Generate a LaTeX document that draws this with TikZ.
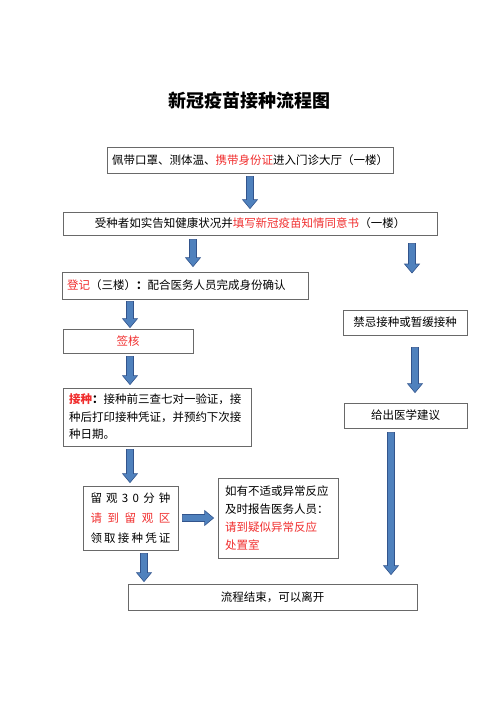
\documentclass[tikz,border=0pt]{standalone}
\usepackage{fontspec}
\setmainfont{Noto Sans CJK SC}
\usepackage{xcolor}
\usepackage{tikz}
\usetikzlibrary{calc}

\definecolor{arrowfill}{RGB}{79,129,189}
\definecolor{arrowedge}{RGB}{50,84,140}
\definecolor{boxline}{RGB}{105,105,105}
\definecolor{hl}{RGB}{240,45,45}

\tikzset{
  box/.style={draw=boxline, line width=0.8pt, inner sep=0pt,
              font=\fontsize{11.5}{18}\selectfont},
  blockarrow/.style={draw=arrowedge, fill=arrowfill, line width=0.6pt,
    to path={
      ($(\tikztotarget)!9pt!(\tikztostart)$) coordinate (hb)
      ($(\tikztostart)!3.5pt!90:(\tikztotarget)$)
      -- ($(hb)!3.5pt!-90:(\tikztostart)$)
      -- ($(hb)!7.5pt!-90:(\tikztostart)$)
      -- (\tikztotarget)
      -- ($(hb)!7.5pt!90:(\tikztostart)$)
      -- ($(hb)!3.5pt!90:(\tikztostart)$)
      -- ($(\tikztostart)!3.5pt!-90:(\tikztotarget)$)
      -- cycle}}
}

\begin{document}
\begin{tikzpicture}[x=1pt,y=-1pt]
\useasboundingbox (0,0) rectangle (500,707);

% title
\node[font=\fontsize{18}{18}\selectfont\bfseries] (title) at (249,101) {新冠疫苗接种流程图};

% main column
\node[box, minimum width=286pt, minimum height=26pt] (entry) at (250,160)
  {佩带口罩、测体温、\textcolor{hl}{携带身份证}进入门诊大厅（一楼）};
\node[box, minimum width=374pt, minimum height=23pt] (consent) at (250,223.5)
  {受种者如实告知健康状况并\textcolor{hl}{填写新冠疫苗知情同意书}（一楼）};
\node[box, text width=236pt, inner xsep=5pt, align=left, minimum height=27pt] (reg) at (185,285.5)
  {\textcolor{hl}{登记}（三楼）\textbf{：}配合医务人员完成身份确认};
\node[box, minimum width=130pt, minimum height=24pt, text=hl] (sign) at (128,341) {签核};
\node[box, text width=176pt, inner xsep=6pt, align=left, minimum height=58pt,
      font=\fontsize{11.5}{17.5}\selectfont] (inject) at (157,417)
  {\textcolor{hl}{\textbf{接种}}\textbf{：}接种前三查七对一验证，接\\
   种后打印接种凭证，并预约下次接\\
   种日期。};
\node[box, text width=80pt, inner xsep=7.5pt, align=left, minimum height=64pt,
      font=\fontsize{11.5}{20}\selectfont] (observe) at (130.5,518)
  {\makebox[80pt][s]{留\hfill 观\hfill 3\hfill 0\hfill 分\hfill 钟}\\
   \makebox[80pt][s]{\color{hl}请\hfill 到\hfill 留\hfill 观\hfill 区}\\
   \makebox[80pt][s]{领\hfill 取\hfill 接\hfill 种\hfill 凭\hfill 证}};
\node[box, text width=106pt, inner xsep=7pt, align=left, minimum height=80pt] (report) at (278,518)
  {如有不适或异常反应\\
   及时报告医务人员：\\
   \textcolor{hl}{请到疑似异常反应}\\
   \textcolor{hl}{处置室}};
\node[box, minimum width=289pt, minimum height=26pt] (finish) at (272.5,597) {流程结束，可以离开};

% right column
\node[box, minimum width=124pt, minimum height=25pt] (contra) at (405,322.5) {禁忌接种或暂缓接种};
\node[box, minimum width=123pt, minimum height=25pt] (advise) at (405.5,415.5) {给出医学建议};

% arrow columns
\coordinate (cA) at (193,0);
\coordinate (cB) at (412,0);
\coordinate (cC) at (130,0);
\coordinate (cD) at (144,0);
\coordinate (cE) at (415,0);
\coordinate (cF) at (391,0);
\coordinate (waittip) at (412,273);

% arrows
\draw[blockarrow] ([yshift=-3pt]entry.south) to ([yshift=3pt]consent.north);
\draw[blockarrow] ([yshift=-4pt]consent.south -| cA) to ([yshift=5pt]reg.north -| cA);
\draw[blockarrow] ([yshift=-8pt]consent.south -| cB) to (waittip);
\draw[blockarrow] ([yshift=-2pt]reg.south -| cC) to ([yshift=1pt]sign.north -| cC);
\draw[blockarrow] ([yshift=-3pt]sign.south -| cC) to ([yshift=3pt]inject.north -| cC);
\draw[blockarrow] ([yshift=-3pt]inject.south -| cC) to ([yshift=3pt]observe.north -| cC);
\draw[blockarrow] ([xshift=4pt]observe.east) to ([xshift=-4pt]report.west |- observe.east);
\draw[blockarrow] ([yshift=-3pt]observe.south -| cD) to ([yshift=2pt]finish.north -| cD);
\draw[blockarrow] ([yshift=-12pt]contra.south -| cE) to ([yshift=10pt]advise.north -| cE);
\draw[blockarrow] ([yshift=-4pt]advise.south -| cF) to ([yshift=9pt]finish.north -| cF);
\end{tikzpicture}
\end{document}
